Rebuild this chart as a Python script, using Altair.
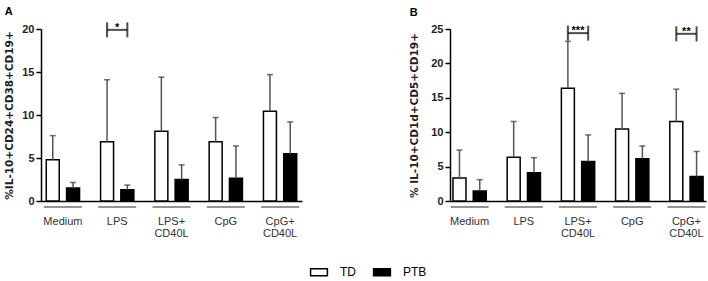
import altair as alt
import pandas as pd

categories = ["Medium", "LPS", "LPS+ CD40L", "CpG", "CpG+ CD40L"]
groups = ["TD", "PTB"]

# Panel A: %IL-10+CD24+CD38+CD19+
a_td_mean = [4.8, 6.9, 8.1, 6.9, 10.45]
a_td_upper = [7.6, 14.1, 14.4, 9.7, 14.7]
a_ptb_mean = [1.5, 1.3, 2.5, 2.65, 5.5]
a_ptb_upper = [2.15, 1.85, 4.2, 6.4, 9.2]
a_sig_cats = ["LPS"]
a_sig_y = [19.9]
a_sig_text = ["*"]

# Panel B: % IL-10+CD1d+CD5+CD19+
b_td_mean = [3.35, 6.35, 16.4, 10.45, 11.55]
b_td_upper = [7.4, 11.55, 23.2, 15.65, 16.25]
b_ptb_mean = [1.45, 4.1, 5.75, 6.15, 3.55]
b_ptb_upper = [3.1, 6.3, 9.6, 8.0, 7.2]
b_sig_cats = ["LPS+ CD40L", "CpG+ CD40L"]
b_sig_y = [24.4, 24.3]
b_sig_text = ["***", "**"]

a_yticks = [0, 5, 10, 15, 20]
b_yticks = [0, 5, 10, 15, 20, 25]


def bar_frame(td_mean, td_up, ptb_mean, ptb_up):
    rows = []
    for i, c in enumerate(categories):
        rows.append({"cat": c, "series": "TD", "mean": td_mean[i], "upper": td_up[i]})
        rows.append({"cat": c, "series": "PTB", "mean": ptb_mean[i], "upper": ptb_up[i]})
    return pd.DataFrame(rows)


def sig_frames(cats, ys, texts):
    s = pd.DataFrame({"cat": cats, "y": ys, "label": texts})
    ends = pd.DataFrame([{"cat": c, "y": y, "series": g} for c, y in zip(cats, ys) for g in groups])
    return s, ends


def panel(df, sig_cats, sig_y, sig_text, ymax, yticks, ytitle, letter, width, pad_outer, title_pad):
    xs = alt.Scale(domain=categories, paddingInner=0.387, paddingOuter=pad_outer)
    xaxis = alt.Axis(
        title=None, ticks=False, tickSize=0, labelAngle=0, labelPadding=14,
        labelExpr="split(datum.label, ' ')", labelLineHeight=12,
        labelFont="Liberation Sans", labelFontSize=11, labelColor="#333",
    )
    x = alt.X("cat:N", sort=categories, scale=xs, axis=xaxis)
    xo = alt.XOffset("series:N", sort=groups,
                     scale=alt.Scale(domain=groups, paddingInner=0.36, paddingOuter=0))
    ys = alt.Scale(domain=[0, ymax], nice=False)
    yaxis = alt.Axis(values=yticks, tickSize=5, labelPadding=2, titlePadding=title_pad,
                     labelFont="Liberation Sans", labelFontSize=11, labelFontWeight="bold",
                     labelColor="#222", titleFont="DejaVu Sans", titleFontSize=10.5,
                     titleFontWeight="bold", titleColor="#222")

    def Y(field):
        return alt.Y(field, scale=ys, axis=yaxis, title=ytitle)

    base = alt.Chart(df)
    underline = alt.Chart(pd.DataFrame({"cat": categories})).mark_tick(
        orient="horizontal", size=38, thickness=1.5, color="#333"
    ).encode(x=x, y=alt.value(178))

    bars = base.mark_bar(stroke="black", strokeWidth=1.5).encode(
        x=x, xOffset=xo, y=Y("mean:Q"),
        color=alt.Color(
            "series:N", sort=groups,
            scale=alt.Scale(domain=groups, range=["white", "black"]),
            legend=alt.Legend(
                orient="none", legendX=270, legendY=235, direction="horizontal", title=None,
                symbolType="M-1.2,-0.5H1.2V0.5H-1.2Z", symbolSize=196,
                symbolStrokeColor="black", symbolStrokeWidth=1.5,
                labelFont="Liberation Sans", labelFontSize=12, labelColor="black",
                labelOffset=13, columnPadding=14,
            ),
        ),
    )
    err = base.mark_rule(color="#555", strokeWidth=1.5).encode(
        x=x, xOffset=xo, y=Y("mean:Q"), y2="upper:Q"
    )
    caps = base.mark_tick(orient="horizontal", size=6, thickness=1.5, color="#333").encode(
        x=x, xOffset=xo, y=Y("upper:Q")
    )
    s, ends = sig_frames(sig_cats, sig_y, sig_text)
    hbar = alt.Chart(s).mark_tick(orient="horizontal", size=20, thickness=2, color="black").encode(
        x=x, y=Y("y:Q")
    )
    vbar = alt.Chart(ends).mark_tick(orient="vertical", size=15, thickness=2, color="black").encode(
        x=x, xOffset=xo, y=Y("y:Q")
    )
    stars = alt.Chart(s).mark_text(baseline="alphabetic", dy=1, fontSize=11, fontWeight="bold",
                                   font="Liberation Sans", color="black").encode(
        x=x, y=Y("y:Q"), text="label:N"
    )
    return alt.layer(underline, bars, err, caps, hbar, vbar, stars).properties(
        width=width, height=172,
        title=alt.TitleParams(letter, anchor="start", frame="bounds", fontSize=11,
                              font="Liberation Sans", fontWeight="bold", color="black", offset=5),
    )


chart_a = panel(bar_frame(a_td_mean, a_td_upper, a_ptb_mean, a_ptb_upper),
                a_sig_cats, a_sig_y, a_sig_text, 20, a_yticks,
                "%IL-10+CD24+CD38+CD19+", "A", 261, 0.097, 7)
chart_b = panel(bar_frame(b_td_mean, b_td_upper, b_ptb_mean, b_ptb_upper),
                b_sig_cats, b_sig_y, b_sig_text, 25, b_yticks,
                "% IL-10+CD1d+CD5+CD19+", "B", 256, 0.055, 11)

chart = alt.hconcat(chart_a, chart_b, spacing=107).properties(
    padding={"left": 4, "top": 5, "right": 2, "bottom": 2}
).configure_view(strokeWidth=0).configure_axis(
    domainColor="black", domainWidth=1.5, tickColor="black", tickWidth=1.5, grid=False
)

chart.save("out.html", embed_options={"renderer": "svg", "actions": False})
